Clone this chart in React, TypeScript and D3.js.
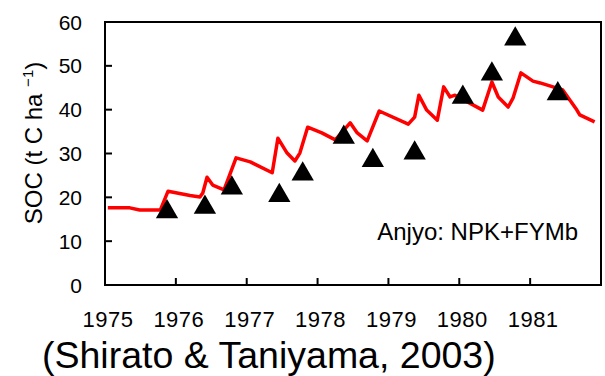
import React from 'react';
import * as d3 from 'd3';

// chart size
const svgWidth = 605;
const svgHeight = 376;
const plotLeft = 105;
const plotRight = 601;
const plotTop = 22;
const plotBottom = 285;
const tickLen = 7;
const fontFamily = '"Liberation Sans", Arial, sans-serif';

// observed SOC (triangles)
const obsYear = [1975.875, 1976.41, 1976.79, 1977.46, 1977.79, 1978.37, 1978.78, 1979.37, 1980.05, 1980.46, 1980.79, 1981.39];
const obsSoc = [16.7, 17.7, 22.1, 20.4, 25.3, 33.7, 28.4, 30.1, 42.8, 48.1, 56.1, 43.6];

// simulated SOC (red line)
const simYear = [
  1975.04, 1975.35, 1975.49, 1975.78, 1975.89, 1976.2, 1976.34, 1976.38, 1976.44, 1976.52,
  1976.68, 1976.85, 1977.05, 1977.36, 1977.44, 1977.57, 1977.68, 1977.75, 1977.86, 1978.06,
  1978.25, 1978.46, 1978.56, 1978.7, 1978.87, 1979.28, 1979.37, 1979.43, 1979.54, 1979.69,
  1979.78, 1979.87, 1979.94, 1980.33, 1980.46, 1980.55, 1980.69, 1980.76, 1980.87, 1981.04,
  1981.14, 1981.46, 1981.66, 1981.7, 1981.91,
];
const simSoc = [
  17.6, 17.6, 17.1, 17.1, 21.4, 20.4, 20.1, 21.0, 24.6, 22.8,
  21.7, 29.0, 28.1, 25.6, 33.5, 30.1, 28.3, 30.1, 36.0, 34.7,
  33.1, 37.0, 34.7, 32.9, 39.7, 36.7, 38.3, 43.3, 39.9, 37.6,
  45.2, 42.9, 43.3, 39.9, 46.3, 42.9, 40.6, 42.7, 48.4, 46.5,
  46.1, 44.5, 39.9, 38.8, 37.2,
];

// axis ticks
const yearTicks = [1975, 1976, 1977, 1978, 1979, 1980, 1981];
const socTicks = [0, 10, 20, 30, 40, 50, 60];

const xScale = d3.scaleLinear().domain([1975, 1982]).range([plotLeft, plotRight]);
const yScale = d3.scaleLinear().domain([0, 60]).range([plotBottom, plotTop]);

export default function App() {
  const simLine = d3.line<number>()
    .x((d, i) => xScale(simYear[i]))
    .y((d) => yScale(d));

  const triangle = d3.symbol().type(d3.symbolTriangle).size(215)();

  return (
    <svg width={svgWidth} height={svgHeight} style={{ position: 'absolute', left: 0, top: 0 }}
      fontFamily={fontFamily}>
      <rect x={0} y={0} width={svgWidth} height={svgHeight} fill="#fff" />

      {/* y ticks (inside) and labels */}
      {socTicks.map((t) => (
        <g key={'y' + t}>
          <line x1={plotLeft} x2={plotLeft + tickLen} y1={yScale(t)} y2={yScale(t)} stroke="#000" strokeWidth={2} />
          <text x={82} y={yScale(t)} dy="0.36em" textAnchor="end" fontSize={21}>{t}</text>
        </g>
      ))}

      {/* x ticks (inside) and labels */}
      {yearTicks.map((t) => (
        <g key={'x' + t}>
          {t > 1975 && (
            <line x1={xScale(t)} x2={xScale(t)} y1={plotBottom} y2={plotBottom - tickLen} stroke="#000" strokeWidth={2} />
          )}
          <text x={xScale(t) + 3} y={327} textAnchor="middle" fontSize={22} letterSpacing={0.5}>{t}</text>
        </g>
      ))}

      {/* simulated line */}
      <path d={simLine(simSoc) || ''} fill="none" stroke="#ff0000" strokeWidth={3.5} strokeLinejoin="round" />

      {/* observations */}
      {obsSoc.map((v, i) => (
        <path key={'o' + i} d={triangle || ''} transform={`translate(${xScale(obsYear[i])},${yScale(v)})`} fill="#000" />
      ))}

      {/* frame */}
      <rect x={plotLeft} y={plotTop} width={plotRight - plotLeft} height={plotBottom - plotTop}
        fill="none" stroke="#000" strokeWidth={2} />

      <text x={578} y={240} textAnchor="end" fontSize={24}>Anjyo: NPK+FYMb</text>

      {/* y axis title */}
      <text transform="translate(42,143) rotate(-90)" textAnchor="middle" fontSize={24}>
        SOC (t C ha <tspan dy={-9} fontSize={15}>−1</tspan><tspan dy={9}>)</tspan>
      </text>

      <text x={42} y={368} fontSize={37.5}>(Shirato &amp; Taniyama, 2003)</text>
    </svg>
  );
}
